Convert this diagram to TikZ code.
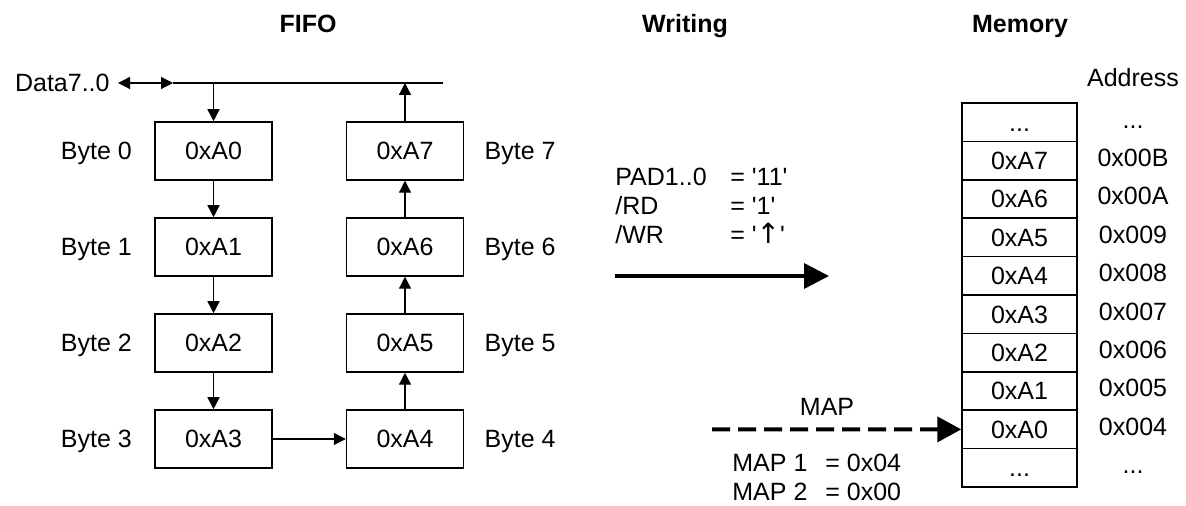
\documentclass[tikz,border=0pt]{standalone}
\usepackage{fontspec}
\setmainfont{Liberation Sans}[Ligatures=TeXOff]
\newfontfamily\symf{DejaVu Sans}
\usetikzlibrary{arrows.meta}
\newcommand\mydots{...}
\begin{document}
\begin{tikzpicture}[x=0.5pt,y=-0.5pt,
  font=\fontsize{12.5}{15}\selectfont,
  fbox/.style={draw,line width=0.75pt,minimum width=58.5pt,minimum height=29pt,inner sep=0pt,text height=8.95pt,text depth=0pt},
  mbox/.style={draw,line width=0.75pt,minimum width=57.5pt,minimum height=19.2pt,inner sep=0pt,text height=8.95pt,text depth=0pt},
  lbl/.style={inner sep=0pt,text height=8.95pt,text depth=0pt},
  ttl/.style={inner sep=0pt,font=\fontsize{12.5}{15}\selectfont\bfseries,text height=8.95pt,text depth=0pt},
  conn/.style={line width=0.65pt,-{Triangle[length=6pt,width=6pt]}},
  bigarrow/.style={line width=1.75pt,-{Triangle[length=12.5pt,width=12.5pt]}},
  dasharrow/.style={line width=2pt,dash pattern=on 9pt off 4pt,-{Triangle[length=12pt,width=12.5pt]}}]
\useasboundingbox (0,0) rectangle (1186,506);

% titles
\node[ttl] (tfifo) at (308,24) {FIFO};
\node[ttl] (twrite) at (685,24) {Writing};
\node[ttl] (tmem) at (1020,24) {Memory};

% data bus
\node[lbl,anchor=east] (data) at (110,83) {Data7..0};
\coordinate (dl) at (118,83);
\coordinate (busL) at (173,83);
\coordinate (busR) at (443,83);
\draw[line width=0.65pt,{Triangle[length=6pt,width=6pt]}-{Triangle[length=6pt,width=6pt]}] (dl) -- (busL);
\draw[line width=0.65pt] (busL) -- (busR);

% FIFO boxes
\node[fbox] (b0) at (213.5,151) {0xA0};
\node[fbox] (b1) at (213.5,247) {0xA1};
\node[fbox] (b2) at (213.5,343) {0xA2};
\node[fbox] (b3) at (213.5,439) {0xA3};
\node[fbox] (b7) at (405,151) {0xA7};
\node[fbox] (b6) at (405,247) {0xA6};
\node[fbox] (b5) at (405,343) {0xA5};
\node[fbox] (b4) at (405,439) {0xA4};

\foreach \i in {0,1,2,3}{
  \node[lbl,anchor=east] (lb\i) at ([xshift=-11pt]b\i.west) {Byte \i};
}
\foreach \i in {4,5,6,7}{
  \node[lbl,anchor=west] (lb\i) at ([xshift=10pt]b\i.east) {Byte \i};
}

\coordinate (bus0) at (b0.north |- busL);
\coordinate (bus7) at (b7.north |- busL);
\draw[conn] (bus0) -- (b0.north);
\draw[conn] (b0) -- (b1);
\draw[conn] (b1) -- (b2);
\draw[conn] (b2) -- (b3);
\draw[conn] (b3) -- (b4);
\draw[conn] (b4) -- (b5);
\draw[conn] (b5) -- (b6);
\draw[conn] (b6) -- (b7);
\draw[conn] (b7.north) -- (bus7);

% writing
\node[inner sep=0pt,anchor=base west] (p1) at (615,186) {PAD1..0};
\node[inner sep=0pt,anchor=base west] (v1) at (730,186) {= '11'};
\node[inner sep=0pt,anchor=base west] (p2) at (615,215) {/RD};
\node[inner sep=0pt,anchor=base west] (v2) at (730,215) {= '1'};
\node[inner sep=0pt,anchor=base west] (p3) at (615,244) {/WR};
\node[inner sep=0pt,anchor=base west] (v3) at (730,244) {= '{\symf\fontsize{14}{15}\selectfont ↑}'};
\coordinate (wa) at (615,276);
\coordinate (wb) at (829,276);
\draw[bigarrow] (wa) -- (wb);

% memory
\node[lbl] (addr) at (1133,78) {Address};
\foreach \t [count=\k from 0] in {\mydots,0xA7,0xA6,0xA5,0xA4,0xA3,0xA2,0xA1,0xA0,\mydots}{
  \node[mbox] (m\k) at (1019.5,{103+38.4*(\k+0.5)}) {\t};
}
\foreach \t [count=\k from 0] in {\mydots,0x00B,0x00A,0x009,0x008,0x007,0x006,0x005,0x004,\mydots}{
  \node[lbl] (a\k) at (1133,{103+38.4*(\k+0.5)-3}) {\t};
}

% MAP
\node[lbl] (map) at (827,407) {MAP};
\coordinate (ms) at (712,429.4);
\draw[dasharrow] (ms) -- (m8.west);
\node[inner sep=0pt,anchor=base west] (mp1) at (732,472) {MAP 1};
\node[inner sep=0pt,anchor=base west] (mv1) at (825,472) {= 0x04};
\node[inner sep=0pt,anchor=base west] (mp2) at (732,501) {MAP 2};
\node[inner sep=0pt,anchor=base west] (mv2) at (825,501) {= 0x00};
\end{tikzpicture}
\end{document}
